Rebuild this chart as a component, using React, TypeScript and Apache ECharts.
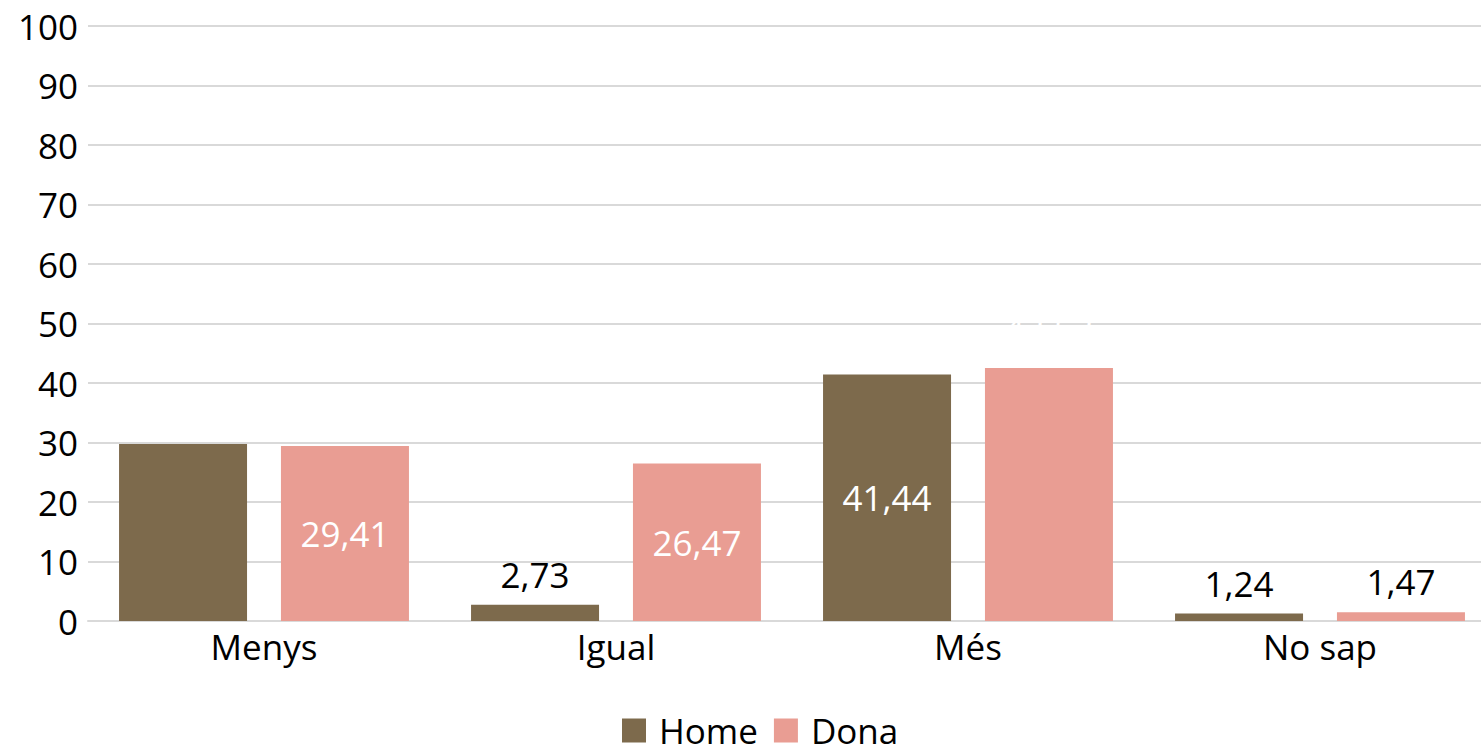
import React, { useEffect, useRef } from "react";
import * as echarts from "echarts";

const categories = ["Menys", "Igual", "Més", "No sap"];
const homeValues = [29.75, 2.73, 41.44, 1.24];
const donaValues = [29.41, 26.47, 42.52, 1.47];
// label placement per bar: "inside" (white), "top" (black), "none"
const homeLabelPos = ["none", "top", "inside", "top"];
const donaLabelPos = ["inside", "inside", "topWhite", "top"];
const yTicks = { min: 0, max: 100, interval: 10 };

const FONT = "'Open Sans', 'Noto Sans', sans-serif";
const fmt = (v: number) => v.toFixed(2).replace(".", ",");

function makeData(values: number[], pos: string[]) {
  return values.map((v, i) => {
    const p = pos[i];
    if (p === "none") return { value: v, label: { show: false } };
    if (p === "inside")
      return { value: v, label: { show: true, position: "inside", color: "#ffffff" } };
    if (p === "topWhite")
      return { value: v, label: { show: true, position: "top", color: "#ffffff", distance: 22 } };
    return { value: v, label: { show: true, position: "top", color: "#000000", distance: 13 } };
  });
}

export default function App() {
  const ref = useRef<HTMLDivElement>(null);
  useEffect(() => {
    if (!ref.current) return;
    const chart = echarts.init(ref.current, null, { renderer: "svg" });
    const labelBase = {
      fontFamily: FONT,
      fontSize: 35,
      formatter: (p: any) => fmt(p.value),
    };
    chart.setOption({
      animation: false,
      backgroundColor: "#ffffff",
      grid: { left: 88, right: 0, top: 26, bottom: 132, containLabel: false },
      legend: {
        bottom: 0,
        left: 617,
        itemWidth: 24,
        itemHeight: 24,
        itemGap: 16,
        icon: "rect",
        textStyle: {
          fontFamily: FONT,
          fontSize: 35,
          color: "#000000",
          padding: [0, 0, 0, 8],
        },
        data: ["Home", "Dona"],
      },
      xAxis: {
        type: "category",
        data: categories,
        axisLine: { show: true, lineStyle: { color: "#d9d9d9", width: 2 } },
        axisTick: { show: false },
        axisLabel: { fontFamily: FONT, fontSize: 35, color: "#000000", margin: 8 },
      },
      yAxis: {
        type: "value",
        min: yTicks.min,
        max: yTicks.max,
        interval: yTicks.interval,
        axisLine: { show: false },
        axisTick: { show: false },
        splitLine: { lineStyle: { color: "#d9d9d9", width: 2 } },
        axisLabel: { fontFamily: FONT, fontSize: 35, color: "#000000", margin: 10 },
      },
      series: [
        {
          name: "Home",
          type: "bar",
          barWidth: 128,
          barGap: "26.5%",
          itemStyle: { color: "#7d6a4c" },
          label: labelBase,
          data: makeData(homeValues, homeLabelPos),
        },
        {
          name: "Dona",
          type: "bar",
          barWidth: 128,
          itemStyle: { color: "#e99d93" },
          label: labelBase,
          data: makeData(donaValues, donaLabelPos),
        },
      ],
    });
    return () => chart.dispose();
  }, []);
  return (
    <div
      style={{
        position: "fixed",
        left: 0,
        top: 0,
        width: 1481,
        height: 753,
        overflow: "hidden",
        background: "#ffffff",
      }}
    >
      <div ref={ref} style={{ width: 1496, height: 753 }} />
    </div>
  );
}
